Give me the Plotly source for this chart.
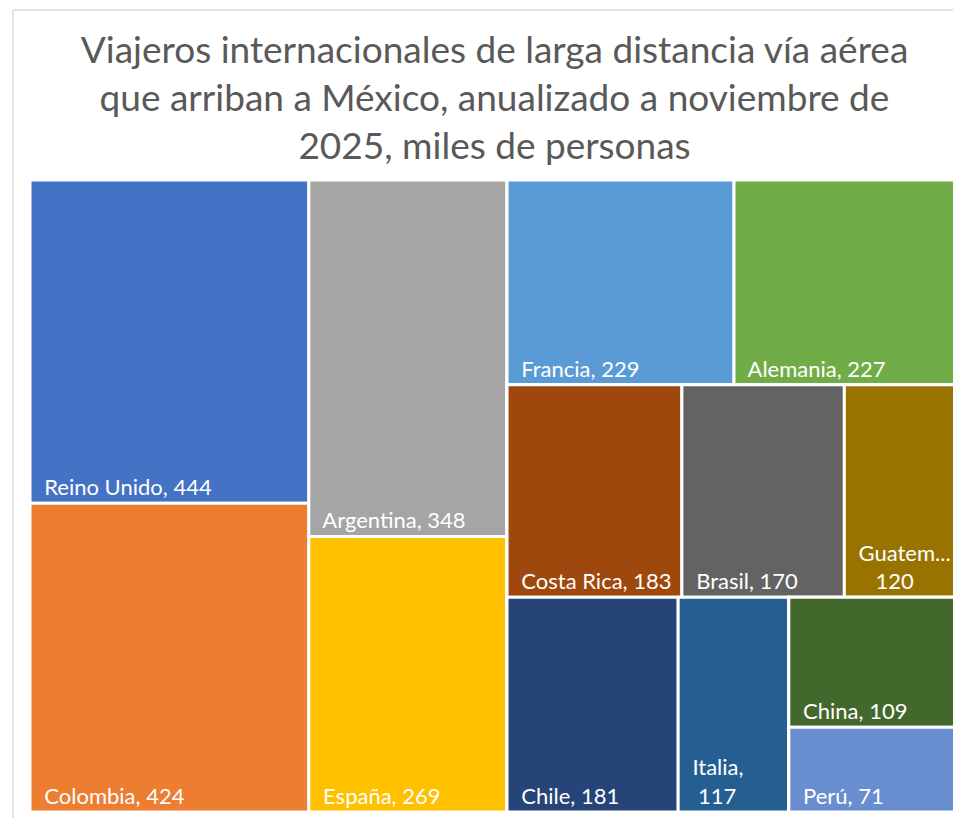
import plotly.graph_objects as go

# Data (miles de personas)
paises = ["Reino Unido", "Colombia", "Argentina", "España", "Francia", "Alemania",
          "Costa Rica", "Brasil", "Guatemala", "Chile", "Italia", "China", "Perú"]
valores = [444, 424, 348, 269, 229, 227, 183, 170, 120, 181, 117, 109, 71]
colores = ["#4472C4", "#ED7D31", "#A5A5A5", "#FFC000", "#5B9BD5", "#70AD47",
           "#9E480E", "#636363", "#997300", "#264478", "#255E91", "#43682B", "#698ED0"]
# Excel-style grouping of tiles (hidden layout groups)
grupo_de = ["g1", "g1", "g2", "g2", "g3a", "g3a",
            "g3d", "g3d", "g3d", "g3e", "g3e", "g3f", "g3f"]
grupos = ["root", "g1", "g2", "g3", "g3a", "g3b", "g3c", "g3d", "g3e", "g3f"]
padres_grupo = ["", "root", "root", "root", "g3", "g3", "g3b", "g3c", "g3c", "g3e"]

# Displayed labels (Excel wraps/truncates a few)
NB = "\u00a0\u00a0"
etiquetas_especiales = {
    "Guatemala": NB + "Guatem...<br>" + "\u00a0" * 5 + "120",
    "Italia": NB + "Italia,<br>" + "\u00a0" * 3 + "117",
}

# children order follows order of appearance: put g3f after Chile/Italia
ids, parents, vals, cols, texts = [], [], [], [], []
for g, pg in zip(grupos, padres_grupo):
    if g == "g3f":
        continue
    ids.append(g); parents.append(pg); vals.append(0); cols.append("white"); texts.append("")
for p, g, v, c in zip(paises, grupo_de, valores, colores):
    if p == "China":
        ids.append("g3f"); parents.append("g3e"); vals.append(0); cols.append("white"); texts.append("")
    ids.append(p); parents.append(g); vals.append(v); cols.append(c)
    texts.append(etiquetas_especiales.get(p, f"{NB}{p}, {v}"))

fig = go.Figure(go.Treemap(
    ids=ids,
    labels=ids,
    parents=parents,
    values=vals,
    branchvalues="remainder",
    text=texts,
    texttemplate="%{text}",
    textposition="bottom left",
    textfont=dict(family="Lato", size=22, color="white"),
    marker=dict(colors=cols, line=dict(color="white", width=3),
                pad=dict(t=0, l=0, r=0, b=0)),
    tiling=dict(packing="slice-dice", pad=0),
    pathbar=dict(visible=False),
    sort=False,
    hoverinfo="label+value",
))

W, H = 953, 810
L, R, T, B = 22, 2, 172, 6
PW, PH = W - L - R, H - T - B

fig.update_layout(
    width=W, height=H,
    margin=dict(l=L, r=R, t=T, b=B),
    paper_bgcolor="white",
    showlegend=False,
    title=dict(
        text="Viajeros internacionales de larga distancia vía aérea<br>que arriban a México, anualizado a noviembre de<br>2025, miles de personas",
        x=0.5, xanchor="center", xref="paper", yref="container",
        y=1 - 55 / H, yanchor="top",
        font=dict(family="Lato", size=37, color="#595959"),
    ),
    shapes=[
        dict(type="line", xref="paper", yref="paper",
             x0=(5 - L) / PW, x1=(5 - L) / PW, y0=(H - B - H) / PH, y1=(H - B - 2) / PH,
             line=dict(color="#D9D9D9", width=1.5)),
        dict(type="line", xref="paper", yref="paper",
             x0=(5 - L) / PW, x1=(W - L) / PW, y0=(H - B - 2) / PH, y1=(H - B - 2) / PH,
             line=dict(color="#D9D9D9", width=1.5)),
    ],
)

fig.write_html("out.html")
